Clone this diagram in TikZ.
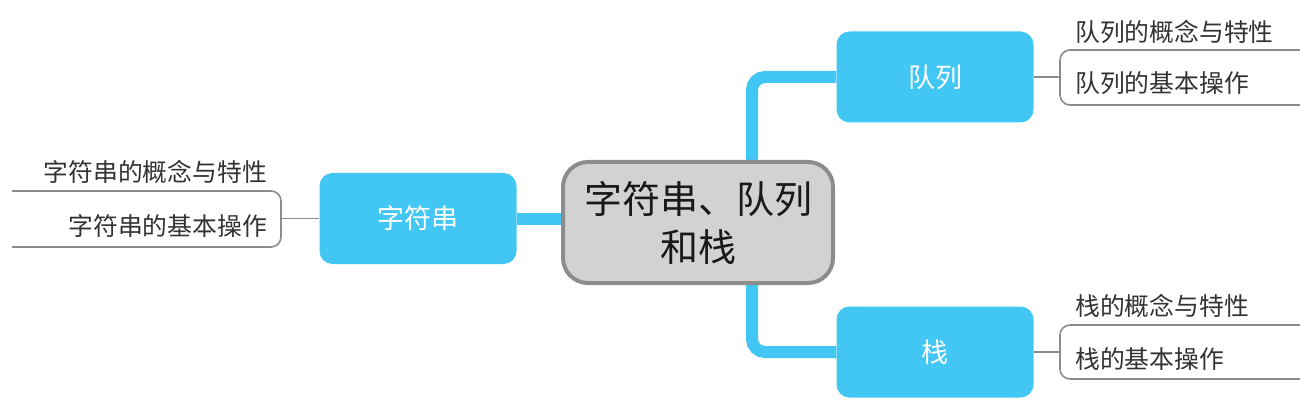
\documentclass[tikz,border=0pt]{standalone}
\usepackage{fontspec}
\setmainfont{Noto Sans CJK SC}
\usetikzlibrary{backgrounds}
\definecolor{mmblue}{HTML}{42C6F3}
\definecolor{mmgray}{HTML}{8C8C8C}
\definecolor{mmfill}{HTML}{D2D2D4}
\definecolor{mmtext}{HTML}{333333}
\begin{document}
\begin{tikzpicture}[x=1pt,y=-1pt,
  central/.style={draw=mmgray, line width=4pt, fill=mmfill, rounded corners=25pt,
    minimum width=270pt, minimum height=121pt, inner sep=0pt, align=center,
    font=\fontsize{38}{48}\selectfont, text=black!90},
  topic/.style={fill=mmblue, rounded corners=13pt, minimum width=197pt, minimum height=91pt,
    inner sep=0pt, text=white, font=\fontsize{27}{30}\selectfont},
  leaf/.style={inner sep=0pt, text=mmtext, font=\fontsize{24.8}{28}\selectfont},
  blueline/.style={draw=mmblue, line width=12pt, rounded corners=13pt},
  grayline/.style={draw=mmgray, line width=1.6pt, rounded corners=10pt}]
\useasboundingbox (0,0) rectangle (1300,406);
% nodes
\node[central] (c) at (698,222.5) {字符串、队列\\和栈};
\node[topic] (s) at (418,218.5) {字符串};
\node[topic] (q) at (935,77) {队列};
\node[topic] (k) at (935,352) {栈};
% leaves
\node[leaf, anchor=west] (q1) at (1075,32) {队列的概念与特性};
\node[leaf, anchor=west] (q2) at (1075,83) {队列的基本操作};
\node[leaf, anchor=west] (k1) at (1075,306) {栈的概念与特性};
\node[leaf, anchor=west] (k2) at (1075,359) {栈的基本操作};
\node[leaf, anchor=east] (s1) at (267,172) {字符串的概念与特性};
\node[leaf, anchor=east] (s2) at (267,226) {字符串的基本操作};
% helper coordinates
\coordinate (vx) at (752,0);
\coordinate (qb) at (1060,0);
\coordinate (sb) at (281,0);
\coordinate (re) at (1300,0);
\coordinate (le) at (12,0);
\coordinate (qt) at (0,50);  \coordinate (qd) at (0,105);
\coordinate (kt) at (0,325); \coordinate (kd) at (0,379);
\coordinate (st) at (0,191); \coordinate (sd) at (0,247);
% connectors
\begin{scope}[on background layer]
\draw[blueline] (c.north -| vx) |- (q.west);
\draw[blueline] (c.south -| vx) |- (k.west);
\draw[blueline, rounded corners=0pt] (s.east) -- (s.east -| c.west);
\end{scope}
\draw[grayline] (q.east) -- (q.east -| qb);
\draw[grayline] (re |- qt) -- (qb |- qt) -- (qb |- qd) -- (re |- qd);
\draw[grayline] (k.east) -- (k.east -| qb);
\draw[grayline] (re |- kt) -- (qb |- kt) -- (qb |- kd) -- (re |- kd);
\draw[grayline] (s.west) -- (s.west -| sb);
\draw[grayline] (le |- st) -- (sb |- st) -- (sb |- sd) -- (le |- sd);
\end{tikzpicture}
\end{document}
